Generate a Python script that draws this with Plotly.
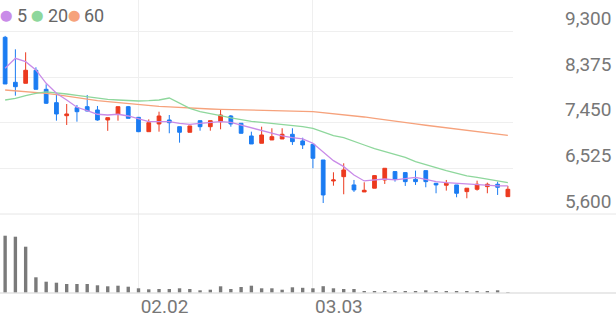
import plotly.graph_objects as go

idx = list(range(50))

opens = [9182, 8270, 8250, 8514, 8128, 7857, 7593, 7755, 7776, 7709,
         7506, 7628, 7776, 7560, 7269, 7425, 7506, 7370, 7257, 7492,
         7370, 7472, 7587, 7439, 7182, 7034, 7101, 7121, 7216, 7081,
         7013, 6695, 6270, 6357, 6189, 6047, 6123, 6290, 6460, 6439,
         6304, 6479, 6223, 6183, 6189, 6054, 6101, 6155, 6203, 5952]
highs = [9210, 8939, 8878, 8574, 8230, 8047, 7830, 7810, 8013, 7790,
         7553, 7776, 7790, 7560, 7519, 7674, 7607, 7370, 7385, 7492,
         7492, 7723, 7607, 7439, 7269, 7370, 7338, 7338, 7338, 7147,
         7013, 6695, 6446, 6628, 6290, 6243, 6385, 6527, 6460, 6439,
         6479, 6479, 6223, 6290, 6189, 6123, 6276, 6236, 6256, 6169]
lows = [8236, 7999, 8250, 8128, 7830, 7492, 7405, 7472, 7680, 7492,
        7286, 7492, 7540, 7260, 7269, 7269, 7237, 7046, 7257, 7289,
        7289, 7317, 7370, 7230, 7020, 7034, 7101, 7121, 7000, 6918,
        6527, 5823, 6174, 6000, 6047, 6047, 6123, 6209, 6256, 6169,
        6189, 6142, 6020, 6074, 5939, 5919, 6074, 6020, 5986, 5952]
closes = [8236, 8181, 8514, 8128, 7845, 7628, 7628, 7674, 7688, 7506,
          7553, 7776, 7540, 7269, 7451, 7587, 7451, 7257, 7385, 7370,
          7492, 7607, 7425, 7237, 7020, 7202, 7168, 7216, 7067, 7000,
          6730, 5986, 6290, 6493, 6088, 6081, 6378, 6527, 6304, 6256,
          6256, 6256, 6189, 6223, 6020, 6123, 6203, 6203, 6142, 6101]
volumes = [1146000, 1126000, 926000, 314000, 226000, 206000, 180000, 180000, 180000, 154000,
           134000, 146000, 126000, 94000, 74000, 80000, 80000, 94000, 80000, 54000,
           66000, 134000, 80000, 120000, 146000, 94000, 94000, 66000, 114000, 104000,
           94000, 136000, 94000, 80000, 80000, 26000, 28000, 26000, 30000, 26000,
           40000, 54000, 40000, 38000, 40000, 26000, 28000, 26000, 54000, 10000]
ma5 = [8554, 8757, 8688, 8520, 8250, 8047, 7911, 7764, 7695, 7622,
       7607, 7622, 7587, 7526, 7472, 7472, 7472, 7439, 7419, 7439,
       7452, 7472, 7459, 7405, 7345, 7303, 7236, 7182, 7148, 7121,
       7034, 6864, 6681, 6560, 6391, 6270, 6287, 6310, 6290, 6324,
       6344, 6304, 6256, 6236, 6223, 6203, 6189, 6169, 6169, 6169]
ma20 = [7911, 7945, 7999, 8047, 8074, 8060, 8033, 8007, 7979, 7952,
        7925, 7911, 7902, 7891, 7898, 7911, 7952, 7844, 7743, 7675,
        7642, 7594, 7547, 7506, 7479, 7459, 7439, 7419, 7391, 7370,
        7338, 7257, 7188, 7148, 7080, 6999, 6925, 6864, 6797, 6750,
        6661, 6594, 6540, 6479, 6426, 6371, 6344, 6304, 6270, 6236]
ma60 = [8114, 8101, 8087, 8067, 8047, 8020, 7986, 7952, 7925, 7898,
        7877, 7857, 7830, 7810, 7796, 7783, 7770, 7756, 7743, 7736,
        7729, 7723, 7716, 7709, 7705, 7700, 7695, 7690, 7685, 7680,
        7675, 7655, 7642, 7622, 7595, 7567, 7537, 7506, 7480, 7452,
        7425, 7399, 7374, 7350, 7324, 7297, 7271, 7247, 7222, 7192]

tick_idx = [13, 30]
tick_text = ["02.02", "03.03"]
price_ticks = [5600, 6525, 7450, 8375, 9300]
ma_names = ["5", "20", "60"]

UP = "#ec3a1f"
DOWN = "#1b7cf2"
C5 = "#c98be8"
C20 = "#8ed79c"
C60 = "#f6a27c"
GRID = "#efefef"
TXT = "#777777"
FONT = "Roboto"
FS = 19

fig = go.Figure()

fig.add_trace(go.Scatter(x=idx, y=ma60, mode="lines", line=dict(color=C60, width=1.3),
                         showlegend=False, hoverinfo="skip"))
fig.add_trace(go.Scatter(x=idx, y=ma20, mode="lines", line=dict(color=C20, width=1.3),
                         showlegend=False, hoverinfo="skip"))
fig.add_trace(go.Scatter(x=idx, y=ma5, mode="lines", line=dict(color=C5, width=1.3),
                         showlegend=False, hoverinfo="skip"))

fig.add_trace(go.Candlestick(
    x=idx, open=opens, high=highs, low=lows, close=closes,
    increasing=dict(line=dict(color=UP, width=1), fillcolor=UP),
    decreasing=dict(line=dict(color=DOWN, width=1), fillcolor=DOWN),
    whiskerwidth=0, showlegend=False, xaxis="x", yaxis="y"))

fig.add_trace(go.Bar(x=idx, y=volumes, width=0.33, marker=dict(color="#7a7a7a", line=dict(width=0)),
                     showlegend=False, xaxis="x", yaxis="y2"))

split = 79 / 293

legend_ann = []
for name, col, dx, tx in zip(ma_names, [C5, C20, C60], [6, 37, 74], [15, 46, 82]):
    legend_ann.append(dict(
        xref="paper", yref="paper", x=0, y=1, xanchor="center", yanchor="middle",
        xshift=dx, yshift=-15, showarrow=False,
        text="⬤", font=dict(family="DejaVu Sans", size=11, color=col)))
    legend_ann.append(dict(
        xref="paper", yref="paper", x=0, y=1, xanchor="left", yanchor="middle",
        xshift=tx, yshift=-15, showarrow=False,
        text=name, font=dict(family=FONT, size=18, color="#666666")))

fig.update_layout(
    width=616, height=321,
    margin=dict(l=0, r=103, t=0, b=28),
    paper_bgcolor="white", plot_bgcolor="white",
    boxgap=0.48,
    font=dict(family=FONT, size=FS, color=TXT),
    xaxis=dict(range=[-0.5, 49.5], anchor="y2", tickvals=tick_idx, ticktext=tick_text,
               showgrid=True, gridcolor=GRID, gridwidth=1, zeroline=False, showline=False,
               ticks="", rangeslider=dict(visible=False), ticklabelshift=26,
               tickfont=dict(family=FONT, size=FS, color=TXT)),
    yaxis=dict(domain=[split, 1], range=[5600, 9938.5], side="right",
               tickvals=price_ticks, tickformat=",d",
               showgrid=True, gridcolor=GRID, gridwidth=1, zeroline=False, ticks="",
               ticklabelstandoff=51, ticklabelshift=-13,
               tickfont=dict(family=FONT, size=FS, color=TXT)),
    yaxis2=dict(domain=[0, split], range=[0, 1580000], showticklabels=False,
                showgrid=False, zeroline=False, ticks=""),
    shapes=[
        dict(type="line", xref="paper", yref="paper", x0=0, x1=616 / 513, y0=split, y1=split,
             line=dict(color="#e6e6e6", width=1)),
        dict(type="line", xref="paper", yref="paper", x0=0, x1=616 / 513, y0=0, y1=0,
             line=dict(color="#e2e2e2", width=1.5)),
    ],
    annotations=legend_ann,
    hovermode=False,
)

fig.write_html("out.html")
